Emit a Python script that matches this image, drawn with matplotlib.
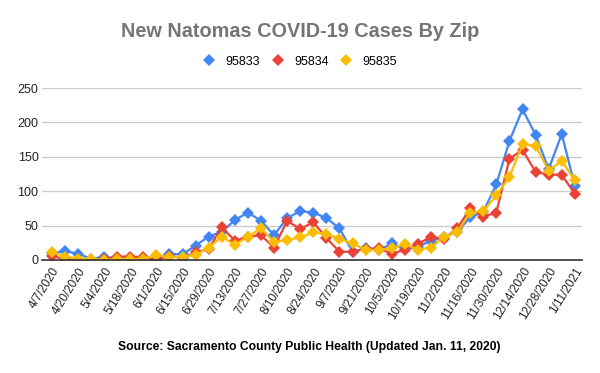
import matplotlib.pyplot as plt
import numpy as np

dates = ['4/7/2020', '4/13/2020', '4/20/2020', '4/27/2020', '5/4/2020', '5/11/2020',
         '5/18/2020', '5/25/2020', '6/1/2020', '6/8/2020', '6/15/2020', '6/22/2020',
         '6/29/2020', '7/6/2020', '7/13/2020', '7/20/2020', '7/27/2020', '8/3/2020',
         '8/10/2020', '8/17/2020', '8/24/2020', '8/31/2020', '9/7/2020', '9/14/2020',
         '9/21/2020', '9/28/2020', '10/5/2020', '10/12/2020', '10/19/2020', '10/26/2020',
         '11/2/2020', '11/9/2020', '11/16/2020', '11/23/2020', '11/30/2020', '12/7/2020',
         '12/14/2020', '12/21/2020', '12/28/2020', '1/4/2021', '1/11/2021']

zip_95833 = [10, 13, 9, 2, 4, 1, 2, 2, 1, 9, 8, 21, 34, 41, 58, 69, 57, 36, 61, 71, 69,
             61, 46, 12, 17, 14, 24, 16, 19, 28, 34, 41, 62, 70, 110, 173, 219, 182, 132,
             183, 108]
zip_95834 = [6, 1, 0, 0, 2, 5, 5, 4, 0, 6, 3, 11, 16, 48, 28, 34, 36, 18, 57, 45, 55,
             32, 12, 12, 16, 17, 9, 15, 23, 34, 30, 46, 75, 63, 69, 147, 160, 128, 124,
             124, 96]
zip_95835 = [12, 5, 2, 2, 0, 1, 1, 2, 7, 4, 5, 7, 18, 34, 22, 34, 46, 26, 29, 33, 40,
             38, 31, 24, 15, 14, 17, 23, 15, 18, 34, 40, 69, 71, 94, 121, 168, 166, 130,
             144, 116]

series = [('95833', zip_95833, '#4285F4'),
          ('95834', zip_95834, '#EA4335'),
          ('95835', zip_95835, '#FBBC04')]

plt.rcParams['font.family'] = ['Liberation Sans', 'DejaVu Sans']

fig = plt.figure(figsize=(6, 3.73), dpi=100)
ax = fig.add_axes([0.07, 0.303, 0.90, 0.461])

x = np.arange(len(dates))
for name, values, color in series:
    ax.plot(x, values, color=color, linewidth=1.6, marker='D', markersize=6,
            markeredgewidth=0, label=name)

ax.set_xlim(-0.75, 40.55)
ax.set_ylim(0, 250)
ax.set_yticks([0, 50, 100, 150, 200, 250])
ax.set_xticks(x[::2])
ax.set_xticklabels(dates[::2], rotation=58, ha='right', rotation_mode='anchor')
ax.tick_params(axis='both', length=0, labelsize=8.5, labelcolor='#222222')
ax.tick_params(axis='x', pad=4)
ax.tick_params(axis='y', pad=2.5, labelsize=9)

ax.grid(axis='y', color='#cccccc', linewidth=1)
ax.set_axisbelow(True)
for side in ['top', 'right', 'left']:
    ax.spines[side].set_visible(False)
ax.spines['bottom'].set_color('#333333')
ax.spines['bottom'].set_linewidth(1.2)

fig.text(0.5, 0.916, 'New Natomas COVID-19 Cases By Zip', ha='center', va='center',
         fontsize=14.3, fontweight='bold', color='#757575')

leg = fig.legend(loc='center', bbox_to_anchor=(0.5, 0.835), ncol=3, frameon=False,
                 fontsize=9, handlelength=1, handletextpad=0.8, columnspacing=0.9)
for h in leg.legend_handles:
    h.set_linestyle('none')

fig.text(0.516, 0.07, 'Source: Sacramento County Public Health (Updated Jan. 11, 2020)',
         ha='center', va='center', fontsize=8.7, fontweight='bold', color='#000000')

fig.savefig('out.png', dpi=100)
